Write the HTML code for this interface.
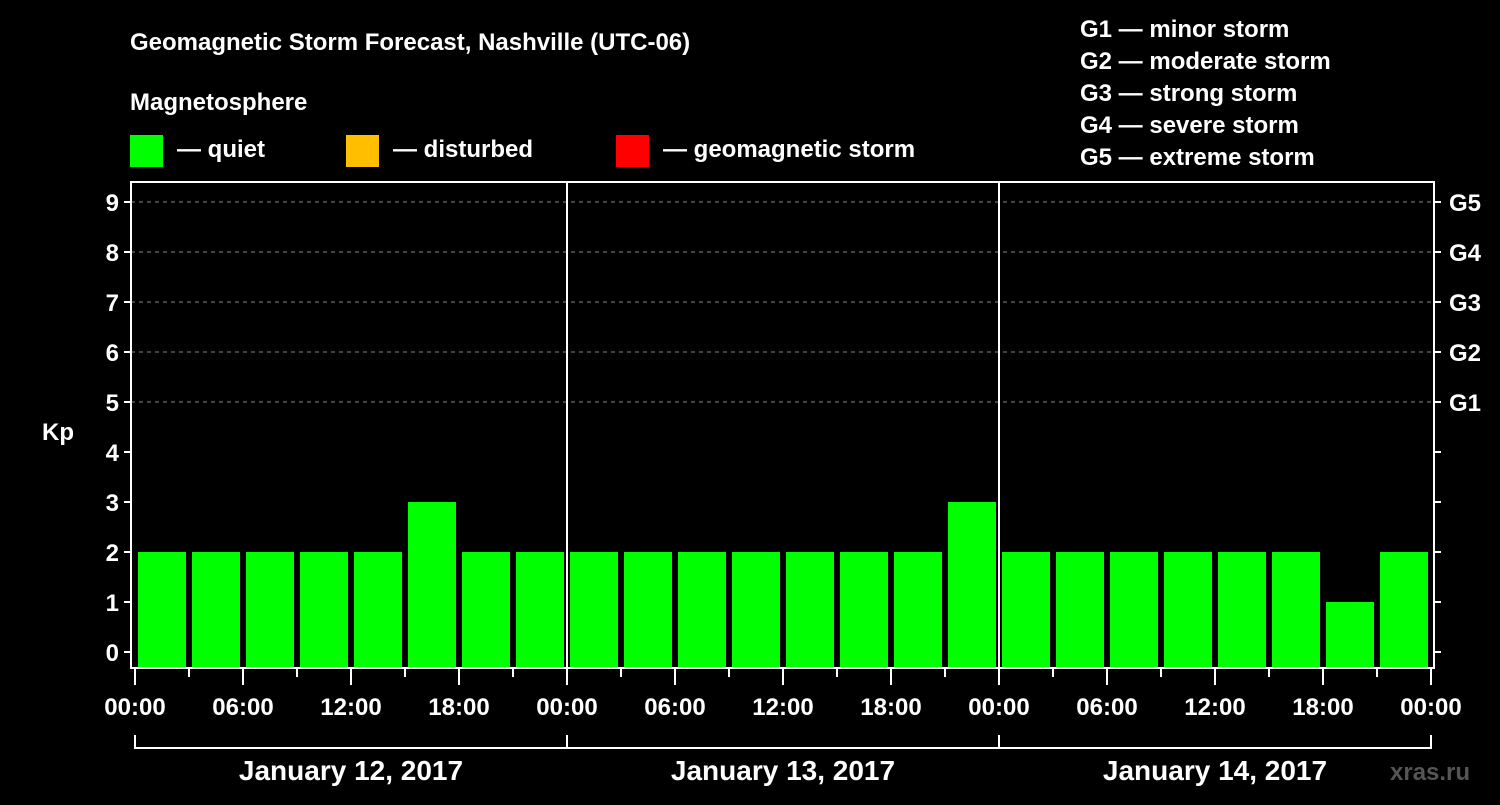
<!DOCTYPE html>
<html><head><meta charset="utf-8"><style>
body{margin:0;background:#000;width:1500px;height:800px;overflow:hidden}
svg text{font-family:"Liberation Sans",Arial,sans-serif;font-weight:bold;fill:#fff}
</style></head><body>
<svg id="chart" width="1500" height="800" xmlns="http://www.w3.org/2000/svg">
<rect width="1500" height="800" fill="#000"/>
<text x="130" y="50" font-size="24">Geomagnetic Storm Forecast, Nashville (UTC-06)</text>
<text x="130" y="110" font-size="24">Magnetosphere</text>
<g>
<rect x="130" y="135" width="33" height="32" fill="#00ff00"/>
<text x="177" y="157" font-size="24">— quiet</text>
<rect x="346" y="135" width="33" height="32" fill="#ffbf00"/>
<text x="393" y="157" font-size="24">— disturbed</text>
<rect x="616" y="135" width="33" height="32" fill="#ff0000"/>
<text x="663" y="157" font-size="24">— geomagnetic storm</text>
</g>
<g font-size="24">
<text x="1080" y="37">G1 — minor storm</text>
<text x="1080" y="69">G2 — moderate storm</text>
<text x="1080" y="101">G3 — strong storm</text>
<text x="1080" y="133">G4 — severe storm</text>
<text x="1080" y="165">G5 — extreme storm</text>
</g>
<text x="42" y="440" font-size="24">Kp</text>
<text x="1390" y="780" font-size="24" style="fill:#555">xras.ru</text>
<g id="grid"></g><g id="bars"></g><g id="axes"></g>
</svg>
<script>
const days = ["January 12, 2017","January 13, 2017","January 14, 2017"];
const kpValues = [2,2,2,2,2,3,2,2, 2,2,2,2,2,2,2,3, 2,2,2,2,2,2,1,2];
const yTicks = [0,1,2,3,4,5,6,7,8,9];
const gLabels = ["G1","G2","G3","G4","G5"];
const hourLabels = ["00:00","06:00","12:00","18:00"];

const NS="http://www.w3.org/2000/svg";
const L=131,R=1434,T=182,B=668,X0=135,DAYW=432;
const y=v=>652-v*50;
const x=h=>X0+h*DAYW/24;
function mk(tag,attrs,parent,txt){const e=document.createElementNS(NS,tag);for(const k in attrs)e.setAttribute(k,attrs[k]);if(txt!==undefined)e.textContent=txt;parent.appendChild(e);return e;}
const grid=document.getElementById('grid'),bars=document.getElementById('bars'),axes=document.getElementById('axes');

yTicks.forEach(v=>{
 if(v>=5){const g=mk('line',{x1:L,x2:R,y1:y(v),y2:y(v),stroke:'#888','stroke-dasharray':'4,4'},grid);
 
 }
 const t=mk('line',{x1:L-7,x2:L,y1:y(v),y2:y(v),stroke:'#fff','stroke-width':2},axes);
 
 
 const t2=mk('line',{x1:R,x2:R+7,y1:y(v),y2:y(v),stroke:'#fff','stroke-width':2},axes);
 
 
 const lb=mk('text',{x:L-12,y:y(v)+9,'font-size':24,'text-anchor':'end'},axes,String(v));
 
 
});
gLabels.forEach((g,i)=>{
 const lb=mk('text',{x:1449,y:y(5+i)+9,'font-size':24},axes,g);
 
 
});
kpValues.forEach((v,i)=>{
 const c=v>=5?'#ff0000':(v>=4?'#ffbf00':'#00ff00');
 const b=mk('rect',{x:x(i*3)+3,y:y(v),width:DAYW/8-6,height:B-y(v),fill:c},bars);
 
 
});
const frame=mk('rect',{x:L,y:T,width:R-L,height:B-T,fill:'none',stroke:'#fff','stroke-width':2},axes);


for(let d=1;d<days.length;d++){
 const s=mk('line',{x1:x(d*24),x2:x(d*24),y1:T,y2:B,stroke:'#fff','stroke-width':2},axes);
 
 
}
for(let h=0;h<=days.length*24;h+=3){
 const major=h%6===0;
 const t=mk('line',{x1:x(h),x2:x(h),y1:B,y2:B+(major?(h%24===0?17:17):9),stroke:'#fff','stroke-width':2},axes);
 
 
 if(major){
  const lb=mk('text',{x:x(h),y:715,'font-size':24,'text-anchor':'middle'},axes,hourLabels[(h%24)/6]);
  
  
 }
}
const br=mk('line',{x1:x(0),x2:x(days.length*24),y1:748,y2:748,stroke:'#fff','stroke-width':2},axes);


for(let d=0;d<=days.length;d++){
 const t=mk('line',{x1:x(d*24),x2:x(d*24),y1:735,y2:749,stroke:'#fff','stroke-width':2},axes);
 
 
}
days.forEach((d,i)=>{
 const lb=mk('text',{x:x(i*24+12),y:780,'font-size':28,'text-anchor':'middle'},axes,d);
 
 
});
</script>
</body></html>
